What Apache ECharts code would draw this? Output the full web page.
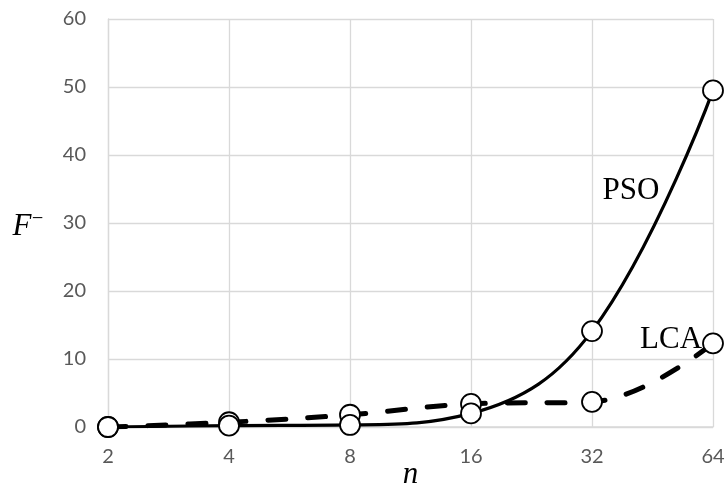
<!DOCTYPE html>
<html>
<head>
<meta charset="utf-8">
<script src="https://cdn.jsdelivr.net/npm/echarts@6/dist/echarts.min.js"></script>
<style>
  html, body { margin: 0; padding: 0; background: #fff; }
  #chart { width: 728px; height: 490px; }
</style>
</head>
<body>
<div id="chart"></div>
<script>
// Problem size n (log2-spaced categories)
const nValues = ['2', '4', '8', '16', '32', '64'];
// Mean objective value for each method
const psoValues = [0.0, 0.2, 0.3, 2.0, 14.1, 49.5];
const lcaValues = [0.0, 0.7, 1.8, 3.4, 3.7, 12.3];
// Y-axis range
const yMin = 0, yMax = 60, yStep = 10;

const serifFont = '"Liberation Serif", "DejaVu Serif", serif';
const tickFont = 'Lato, "Open Sans", sans-serif';

function labelled(values, idx, labelOpt) {
  return values.map((v, i) => i === idx ? { value: v, label: labelOpt } : v);
}

const chart = echarts.init(document.getElementById('chart'));
chart.setOption({
  animation: false,
  backgroundColor: '#ffffff',
  grid: { left: 108, right: 15, top: 19, bottom: 63, containLabel: false, outerBoundsMode: 'none' },
  xAxis: {
    type: 'category',
    data: nValues,
    boundaryGap: false,
    name: 'n',
    nameLocation: 'middle',
    nameGap: 32,
    nameMoveOverlap: false,
    nameTextStyle: { fontFamily: serifFont, fontStyle: 'italic', fontSize: 31, color: '#000' },
    axisLine: { lineStyle: { color: '#d9d9d9', width: 1.5 } },
    axisTick: { show: false },
    axisLabel: { fontFamily: tickFont, fontSize: 20, color: '#595959', margin: 20 },
    splitLine: { show: true, lineStyle: { color: '#d9d9d9', width: 1.3 } }
  },
  yAxis: {
    type: 'value',
    min: yMin, max: yMax, interval: yStep,
    // italic F with a short bar at its top right
    name: '{f|F}{b|⁻}',
    nameLocation: 'middle',
    nameGap: 64,
    nameMoveOverlap: false,
    nameRotate: 0,
    nameTextStyle: {
      padding: [8, 0, 0, 0],
      rich: {
        f: { fontFamily: serifFont, fontStyle: 'italic', fontSize: 31, color: '#000' },
        b: { fontFamily: serifFont, fontSize: 24, color: '#000', verticalAlign: 'top' }
      }
    },
    axisLine: { show: true, lineStyle: { color: '#d9d9d9', width: 1.3 } },
    axisTick: { show: false },
    axisLabel: { fontFamily: tickFont, fontSize: 20, color: '#595959', margin: 22 },
    splitLine: { lineStyle: { color: '#d9d9d9', width: 1.3 } }
  },
  series: [
    {
      name: 'LCA',
      type: 'line',
      data: labelled(lcaValues, 5, {
        show: true, formatter: 'LCA', position: 'left', distance: 0, offset: [0, -4],
        fontFamily: serifFont, fontSize: 31, color: '#000'
      }),
      smooth: 0.4,
      symbol: 'circle',
      symbolSize: 20,
      itemStyle: { color: '#fff', borderColor: '#000', borderWidth: 1.8 },
      lineStyle: { color: '#000', width: 5, type: [18, 22], cap: 'round' },
      z: 2
    },
    {
      name: 'PSO',
      type: 'line',
      data: labelled(psoValues, 5, {
        show: true, formatter: 'PSO', position: 'inside', offset: [-82, 100],
        fontFamily: serifFont, fontSize: 31, color: '#000'
      }),
      smooth: 0.4,
      symbol: 'circle',
      symbolSize: 20,
      itemStyle: { color: '#fff', borderColor: '#000', borderWidth: 1.8 },
      lineStyle: { color: '#000', width: 3.2 },
      z: 3
    }
  ]
});
</script>
</body>
</html>
